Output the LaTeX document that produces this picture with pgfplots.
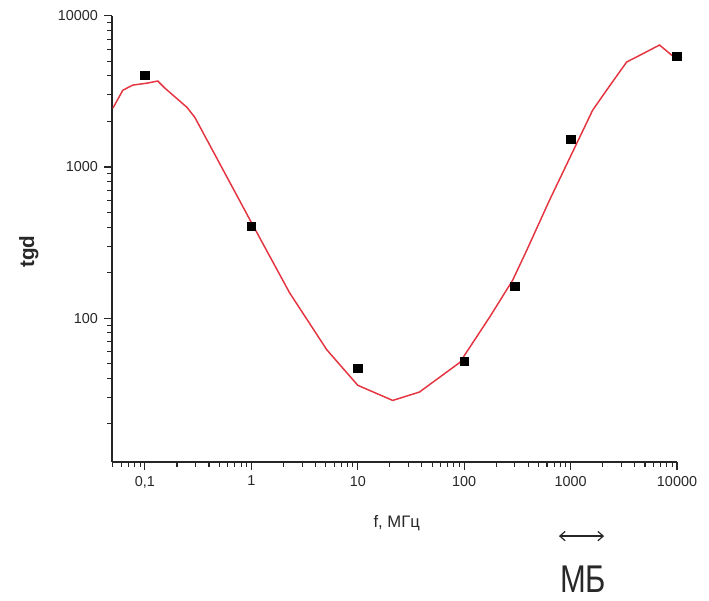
\documentclass[border=0pt]{standalone}
\usepackage{pgfplots}
\pgfplotsset{compat=1.18}
\usetikzlibrary{arrows.meta}
\usepackage{graphicx}
\usepackage{fontspec}
\setmainfont{Liberation Sans}
\definecolor{curvered}{RGB}{228,52,64}
\definecolor{labelgray}{RGB}{40,40,40}

\begin{document}
\begin{tikzpicture}
% page = 709x600 px at 0.75pt per px, axis box at origin
\useasboundingbox (-84pt,-103.5pt) rectangle (447.75pt,346.5pt);
\begin{axis}[
    scale only axis,
    width=423.75pt,
    height=334.7pt,
    anchor=south west,
    at={(0,0)},
    xmode=log, ymode=log,
    xmin=0.049, xmax=10000,
    ymin=11.2, ymax=10000,
    axis lines*=left,
    axis line style={line width=0.9pt, black!85},
    tick align=outside,
    major tick length=6pt,
    minor tick length=3.5pt,
    every tick/.style={black!85, line width=0.8pt},
    xtick={0.1,1,10,100,1000,10000},
    xticklabels={{0,1},1,10,100,1000,10000},
    minor xtick={0.05,0.06,0.07,0.08,0.09,
        0.2,0.3,0.4,0.5,0.6,0.7,0.8,0.9,
        2,3,4,5,6,7,8,9,
        20,30,40,50,60,70,80,90,
        200,300,400,500,600,700,800,900,
        2000,3000,4000,5000,6000,7000,8000,9000},
    ytick={100,1000,10000},
    yticklabels={100,1000,10000},
    minor ytick={20,30,40,50,60,70,80,90,
        200,300,400,500,600,700,800,900,
        2000,3000,4000,5000,6000,7000,8000,9000},
    ticklabel style={font=\fontsize{10.8}{12}\selectfont, text=labelgray},
    xticklabel style={yshift=-1pt},
    yticklabel style={xshift=-1pt},
    xlabel={f, МГц},
    xlabel style={at={(axis description cs:0.504,-0.137)}, anchor=center,
        font=\fontsize{12.5}{14}\selectfont, text=labelgray},
    ylabel={tgd},
    ylabel style={at={(axis description cs:-0.147,0.471)}, anchor=center,
        font=\fontsize{15.5}{17}\selectfont\bfseries, text=labelgray},
    clip=false
]

% fitted curve
\addplot[curvered, line width=1.1pt] coordinates {
    (0.05,2450) (0.062,3220) (0.077,3480) (0.104,3580) (0.132,3700)
    (0.154,3320) (0.248,2480) (0.294,2130)
    (0.97,447) (2.29,147) (5.1,62) (10,36) (21.3,28.6) (38,32.5)
    (91,51) (174,102) (285,178) (386,280) (635,605) (1610,2370)
    (2180,3220) (3360,4940) (4170,5340) (6850,6400) (8870,5500)
    (10000,5400)
};

% measured points
\addplot[only marks, mark=square*, mark size=3.2pt, black] coordinates {
    (0.1,4050) (1,405) (10,46.7) (100,52) (300,163) (1000,1530) (10000,5400)
};

% МБ range marker
\draw[{Straight Barb[length=4pt,width=7pt]}-{Straight Barb[length=4pt,width=7pt]}, line width=0.9pt, black!85]
    (axis description cs:0.791,-0.166) -- (axis description cs:0.871,-0.166);
\node[anchor=center, text=labelgray] at (axis description cs:0.834,-0.262)
    {\scalebox{0.8}[1]{\fontsize{29}{34}\selectfont МБ}};

\end{axis}
\end{tikzpicture}
\end{document}
